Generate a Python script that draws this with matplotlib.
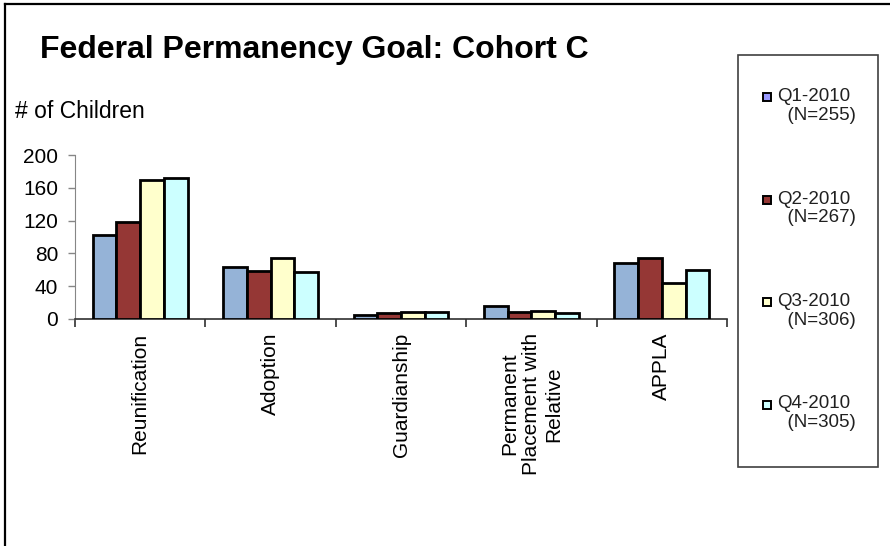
import matplotlib
matplotlib.use("Agg")
import matplotlib.pyplot as plt
import numpy as np
from matplotlib.patches import Rectangle
from matplotlib.lines import Line2D

# data
categories = ['Reunification', 'Adoption', 'Guardianship',
              'Permanent\nPlacement with\nRelative', 'APPLA']
series = ['Q1-2010\n  (N=255)', 'Q2-2010\n  (N=267)',
          'Q3-2010\n  (N=306)', 'Q4-2010\n  (N=305)']
q1 = [102, 64, 5, 16, 68]
q2 = [118, 58, 7, 9, 75]
q3 = [169, 75, 8, 10, 44]
q4 = [172, 57, 9, 7, 60]
values = [q1, q2, q3, q4]
yticks = [0, 40, 80, 120, 160, 200]

bar_colors = ['#95B3D7', '#953735', '#FFFFCC', '#CCFFFF']
legend_colors = ['#9999FF', '#953735', '#FFFFCC', '#CCFFFF']

plt.rcParams['font.family'] = ['Liberation Sans', 'DejaVu Sans']

W, H = 890, 546
fig = plt.figure(figsize=(W / 100, H / 100), dpi=100)


def fx(px):
    return px / W


def fy(py):
    return 1 - py / H


# outer frame (left and top edges visible)
fig.add_artist(Line2D([fx(5), fx(5)], [fy(4), 0], color='black', lw=1.6))
fig.add_artist(Line2D([fx(5), 1], [fy(4), fy(4)], color='black', lw=1.6))

ax = fig.add_axes([fx(75), fy(319), fx(727) - fx(75), (319 - 155) / H])

x = np.arange(len(categories))
w = 0.182
for i, (vals, col) in enumerate(zip(values, bar_colors)):
    ax.bar(x + (i - 1.5) * w, vals, width=w, color=col,
           edgecolor='black', linewidth=2, zorder=3)

ax.set_xlim(-0.5, len(categories) - 0.5)
ax.set_ylim(0, 200)
ax.set_yticks(yticks)
ax.tick_params(axis='y', labelsize=15, length=5, width=1, color='#868686', pad=7)

ax.set_xticks(x)
ax.set_xticklabels(categories, rotation=90, fontsize=15, multialignment='center')
ax.tick_params(axis='x', which='major', length=0, pad=10)
ax.set_xticks(np.arange(-0.5, len(categories)), minor=True)
ax.tick_params(axis='x', which='minor', length=6, width=1.2, color='#303030')

for s in ['top', 'right']:
    ax.spines[s].set_visible(False)
ax.spines['left'].set_color('#868686')
ax.spines['bottom'].set_color('#303030')
ax.spines['bottom'].set_linewidth(1.2)

fig.text(fx(40), fy(50), 'Federal Permanency Goal: Cohort C',
         fontsize=23, fontweight='bold', va='center', ha='left')
fig.text(fx(15), fy(112), '# of Children', fontsize=16.5, va='center', ha='left')

# legend box
fig.add_artist(Rectangle((fx(738), fy(467)), fx(878) - fx(738), (467 - 55) / H,
                         transform=fig.transFigure, fill=False,
                         edgecolor='#404040', lw=1.2))
for i, (lab, col) in enumerate(zip(series, legend_colors)):
    top = 97 + i * 102.5
    fig.add_artist(Rectangle((fx(763), fy(top + 4)), fx(8), 8 / H,
                             transform=fig.transFigure, facecolor=col,
                             edgecolor='black', lw=1.4))
    fig.text(fx(777), fy(top - 9), lab, fontsize=13.5, va='top', ha='left',
             linespacing=1.15, color='#202020')

fig.savefig('out.png', dpi=100)
